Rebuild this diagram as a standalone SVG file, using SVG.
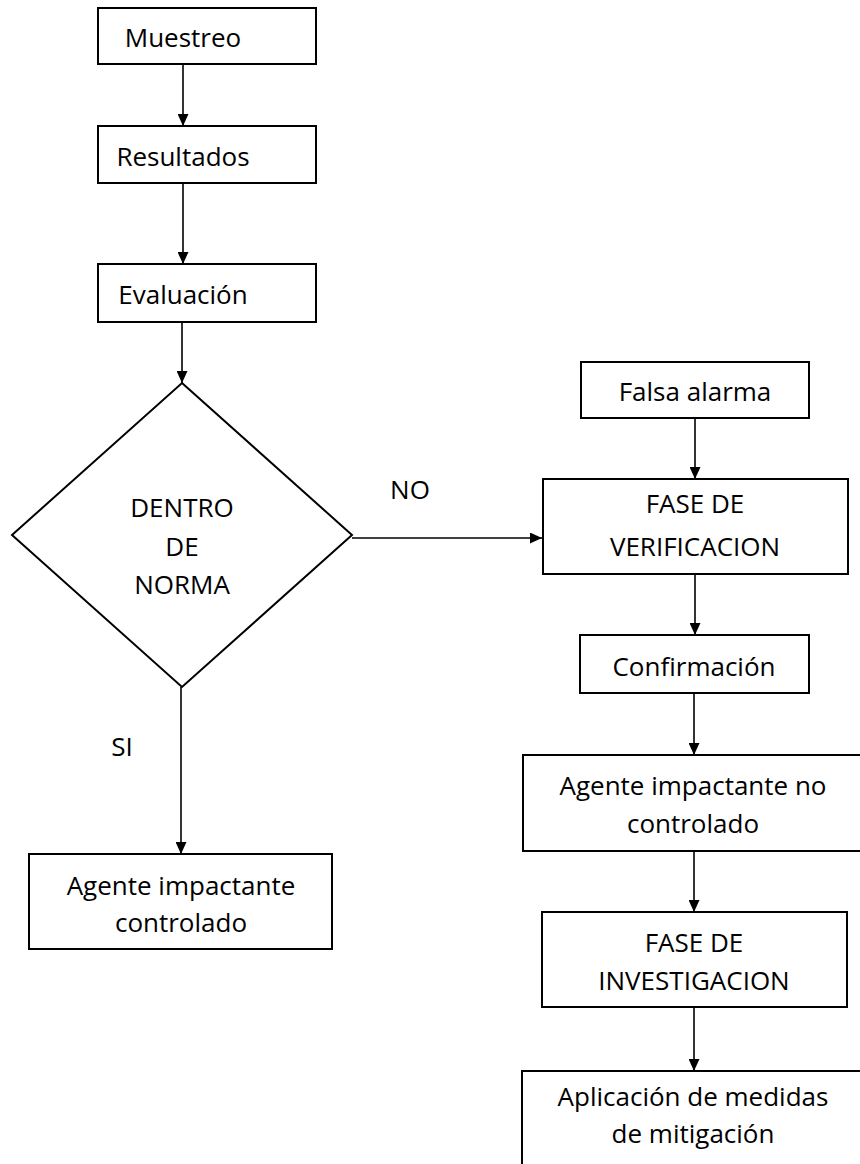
<svg xmlns="http://www.w3.org/2000/svg" width="860" height="1164" viewBox="0 0 860 1164">
<defs>
<style>
.box{fill:#fff;stroke:#000;stroke-width:2}
.t{font-family:"Open Sans","Liberation Sans",sans-serif;font-size:26px;fill:#000;text-anchor:middle}
.c{fill:none;stroke:#000;stroke-width:1.6}
</style>
<marker id="ah" viewBox="0 0 12 11" refX="12" refY="5.5" markerWidth="12" markerHeight="11" markerUnits="userSpaceOnUse" orient="auto">
<path d="M0,0 L12,5.5 L0,11 z" fill="#000"/>
</marker>
</defs>
<rect width="860" height="1164" fill="#fff"/>
<g id="connectors">
<line class="c" x1="183" y1="64" x2="183" y2="126" marker-end="url(#ah)"/>
<line class="c" x1="183" y1="183" x2="183" y2="264" marker-end="url(#ah)"/>
<line class="c" x1="182" y1="322" x2="182" y2="383" marker-end="url(#ah)"/>
<line class="c" x1="352" y1="538" x2="542" y2="538" marker-end="url(#ah)"/>
<line class="c" x1="181" y1="687" x2="181" y2="854" marker-end="url(#ah)"/>
<line class="c" x1="695" y1="418" x2="695" y2="479" marker-end="url(#ah)"/>
<line class="c" x1="695" y1="574" x2="695" y2="635" marker-end="url(#ah)"/>
<line class="c" x1="694" y1="693" x2="694" y2="755" marker-end="url(#ah)"/>
<line class="c" x1="694" y1="851" x2="694" y2="912" marker-end="url(#ah)"/>
<line class="c" x1="694" y1="1007" x2="694" y2="1071" marker-end="url(#ah)"/>
<text class="t" x="410" y="499">NO</text>
<text class="t" x="122" y="756">SI</text>
</g>
<g id="muestreo"><rect class="box" x="98" y="8" width="218" height="56"/><text class="t" x="183" y="47">Muestreo</text></g>
<g id="resultados"><rect class="box" x="98" y="126" width="218" height="57"/><text class="t" x="183" y="166">Resultados</text></g>
<g id="evaluacion"><rect class="box" x="98" y="264" width="218" height="58"/><text class="t" x="183" y="304">Evaluación</text></g>
<g id="decision"><polygon class="box" points="182,383 352,535 182,687 12,535"/>
<text class="t" x="182" y="517">DENTRO</text><text class="t" x="182" y="556">DE</text><text class="t" x="182" y="594">NORMA</text></g>
<g id="controlado"><rect class="box" x="29" y="854" width="303" height="95"/>
<text class="t" x="181" y="895">Agente impactante</text><text class="t" x="181" y="932">controlado</text></g>
<g id="falsa"><rect class="box" x="581" y="362" width="228" height="56"/><text class="t" x="695" y="401">Falsa alarma</text></g>
<g id="verificacion"><rect class="box" x="543" y="479" width="305" height="95"/>
<text class="t" x="695" y="513">FASE DE</text><text class="t" x="695" y="556">VERIFICACION</text></g>
<g id="confirmacion"><rect class="box" x="580" y="635" width="229" height="58"/><text class="t" x="694" y="676">Confirmación</text></g>
<g id="nocontrolado"><rect class="box" x="523" y="755" width="350" height="96"/>
<text class="t" x="693" y="795">Agente impactante no</text><text class="t" x="693" y="833">controlado</text></g>
<g id="investigacion"><rect class="box" x="542" y="912" width="305" height="95"/>
<text class="t" x="694" y="952">FASE DE</text><text class="t" x="694" y="990">INVESTIGACION</text></g>
<g id="mitigacion"><rect class="box" x="522" y="1071" width="350" height="110"/>
<text class="t" x="693" y="1106">Aplicación de medidas</text><text class="t" x="693" y="1143">de mitigación</text></g>
</svg>
